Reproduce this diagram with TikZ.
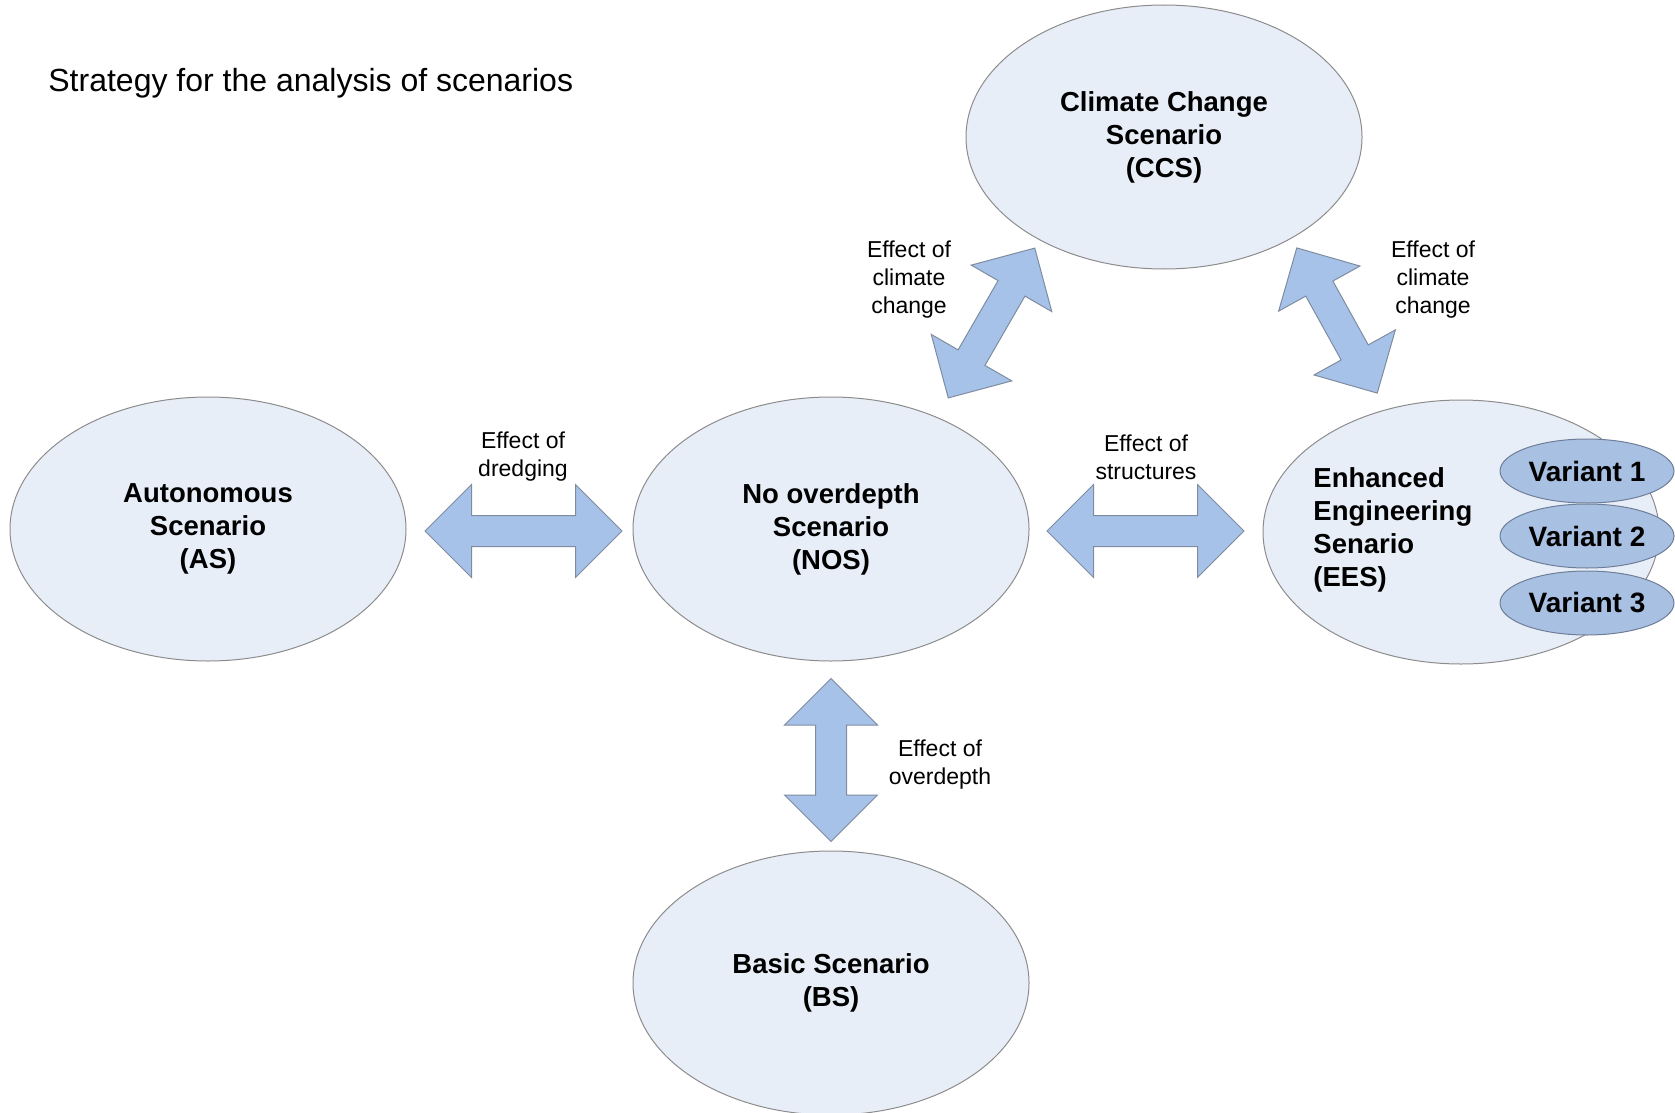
\documentclass[tikz,border=0pt]{standalone}
\usepackage{fontspec}
\setmainfont{Liberation Sans}
\usetikzlibrary{shapes.geometric,shapes.arrows}

\definecolor{scenfill}{HTML}{E8EEF8}
\definecolor{scenline}{HTML}{8C8C8C}
\definecolor{arrowfill}{HTML}{A6C2E8}
\definecolor{arrowline}{HTML}{7F8CA0}
\definecolor{variantfill}{HTML}{A8C0E2}
\definecolor{variantline}{HTML}{6E7E98}

\tikzset{
  scenario/.style={ellipse, draw=scenline, fill=scenfill, line width=0.5pt,
    minimum width=198pt, minimum height=132pt, inner sep=0pt, align=center,
    font=\bfseries\fontsize{13.75}{16.5}\selectfont},
  variant/.style={ellipse, draw=variantline, fill=variantfill, line width=0.5pt,
    minimum width=87pt, minimum height=32pt, inner sep=0pt,
    font=\bfseries\fontsize{14}{15}\selectfont},
  blockarrow/.style={double arrow, draw=arrowline, fill=arrowfill, line width=0.5pt,
    inner xsep=0pt, inner ysep=7.5pt, double arrow head extend=15.5pt},
  effect/.style={align=center, font=\fontsize{11.5}{14}\selectfont}
}

\begin{document}
\begin{tikzpicture}[x=0.5pt,y=-0.5pt]
\useasboundingbox (0,0) rectangle (1675,1113);
% Title
\node[anchor=west, inner sep=0pt, font=\fontsize{16}{18}\selectfont] (title) at (48,83) {Strategy for the analysis of scenarios};
% Scenarios
\node[scenario] (as) at (208,529) {Autonomous\\Scenario\\(AS)};
\node[scenario] (nos) at (831,529) {No overdepth\\Scenario\\(NOS)};
\node[scenario] (ccs) at (1164,137) {Climate Change\\Scenario\\(CCS)};
\node[scenario] (bs) at (831,983) {Basic Scenario\\(BS)};
\node[scenario] (ees) at (1461,532) {};
\node[anchor=west, align=left, inner sep=0pt, font=\bfseries\fontsize{13.75}{16.5}\selectfont] (eestext) at (1313,530) {Enhanced\\Engineering\\Senario\\(EES)};
% Variants of EES
\foreach \i/\y in {1/471,2/536,3/603}
  \node[variant] (var\i) at (1587,\y) {Variant \i};
% Block arrows
\node[blockarrow, minimum height=98.5pt] (dredging) at (523.5,531) {};
\node[blockarrow, minimum height=98.5pt] (structures) at (1145.5,531) {};
\node[blockarrow, minimum height=81.5pt, rotate=90] (overdepth) at (831,760) {};
\node[blockarrow, minimum height=86.5pt, rotate=60] (climateL) at (991.5,323) {};
\node[blockarrow, minimum height=83pt, rotate=-61] (climateR) at (1337,320.5) {};
% Labels of the arrows
\node[effect] (lbdredging) at (523,457) {Effect of\\dredging};
\node[effect] (lbstructures) at (1146,457) {Effect of\\structures};
\node[effect] (lboverdepth) at (940,765) {Effect of\\overdepth};
\node[effect] (lbclimateL) at (909,280) {Effect of\\climate\\change};
\node[effect] (lbclimateR) at (1433,280) {Effect of\\climate\\change};
\end{tikzpicture}
\end{document}
